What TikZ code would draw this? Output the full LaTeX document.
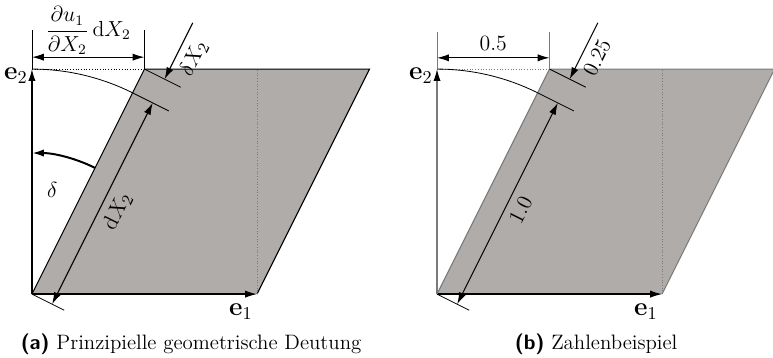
\documentclass[tikz,border=0pt]{standalone}
\usepackage{amsmath}
\usepackage{tikz}
\usetikzlibrary{arrows.meta,calc}
\definecolor{PFill}{HTML}{B0ACAA}
\definecolor{PLine}{HTML}{7A7A7A}

\begin{document}
\begin{tikzpicture}[
  x=124pt,y=124pt,
  every node/.style={font=\fontsize{11}{13}\selectfont},
  edge/.style={line width=0.6pt},
  ax/.style={line width=0.7pt,-{Latex[length=2.3mm,width=1.4mm]}},
  arr/.style={line width=0.6pt,-{Latex[length=2.3mm,width=1.4mm]}},
  dim/.style={line width=0.6pt,{Latex[length=2.3mm,width=1.4mm]}-{Latex[length=2.3mm,width=1.4mm]}},
  aux/.style={line width=0.45pt},
  dots/.style={line width=0.5pt,densely dotted},
  evec/.style={font=\fontsize{14.4}{16}\selectfont,inner sep=1pt},
  rlab/.style={rotate=63.435,anchor=north,inner sep=4pt,font=\fontsize{12.5}{15}\selectfont},
  captxt/.style={anchor=base,font=\fontsize{11.5}{14}\selectfont}
]
\useasboundingbox (-0.142,-0.28) rectangle (3.293,1.307);

% (a) geometric meaning
\begin{scope}
  \coordinate (a-o) at (0,0);
  \coordinate (a-e1) at (1,0);
  \coordinate (a-e2) at (0,1);
  \coordinate (a-r) at (1,1);
  \coordinate (a-tl) at (0.5,1);
  \coordinate (a-tr) at (1.5,1);
  \coordinate (a-m) at (63.435:1);
  \fill[PFill] (a-o) -- (a-e1) -- (a-tr) -- (a-tl) -- cycle;
  \draw[edge] (a-o) -- (a-tl) -- (a-tr) -- (a-e1);
  \draw[dots] (a-e2) -- (a-tl);
  \draw[dots,PLine] (a-e1) -- (a-r);
  \draw[ax] (a-o) -- (a-e1);
  \draw[ax] (a-o) -- (a-e2);
  \node[evec,anchor=north east] (a-l1) at (0.99,-0.035) {$\mathbf{e}_1$};
  \node[evec,anchor=east] (a-l2) at (-0.01,0.97) {$\mathbf{e}_2$};
  \draw[aux] (a-e2) arc (90:63.435:1);
  \draw[aux] (a-m) -- ++(-26.565:0.18) coordinate (a-mt);
  \draw[aux] (a-tl) -- ++(-26.565:0.18) coordinate (a-tt);
  \draw[aux] (a-o) -- ++(-26.565:0.16) coordinate (a-ot);
  \coordinate (a-d0) at ($(a-o)+(-26.565:0.1)$);
  \coordinate (a-d1) at ($(a-m)+(-26.565:0.1)$);
  \coordinate (a-d2) at ($(a-tl)+(-26.565:0.1)$);
  \coordinate (a-d3) at ($(a-d2)+(63.435:0.28)$);
  \draw[dim] (a-d0) -- node[rlab] (a-dl) {$\mathrm{d}X_2$} (a-d1);
  \draw[arr] (a-d3) -- node[rlab] (a-ddl) {$\delta X_2$} (a-d2);
  % horizontal shift
  \coordinate (a-h0) at (0,1.173);
  \coordinate (a-h1) at (0.5,1.173);
  \coordinate (a-k0) at (0,1.053);
  \coordinate (a-k1) at (0.5,1.053);
  \draw[aux] (a-e2) -- (a-h0);
  \draw[aux] (a-tl) -- (a-h1);
  \draw[dim] (a-k0) -- (a-k1);
  \node[anchor=south,inner sep=0pt,font=\fontsize{12}{14}\selectfont] (a-hl)
    at (0.25,1.062) {$\dfrac{\partial u_1}{\partial X_2}\,\mathrm{d}X_2$};
  % shear angle
  \coordinate (a-g0) at (63.435:0.627);
  \draw[arr,line width=1.1pt] (a-g0) arc (63.435:90:0.627) coordinate (a-g1);
  \node[font=\fontsize{12}{14}\selectfont] (a-gl) at (79:0.47) {$\delta$};
  \node[captxt] (a-cap) at (0.707,-0.245)
    {\textsf{\textbf{(a)}} Prinzipielle geometrische Deutung};
\end{scope}

% (b) numbers
\begin{scope}[shift={(1.8,0)}]
  \coordinate (b-o) at (0,0);
  \coordinate (b-e1) at (1,0);
  \coordinate (b-e2) at (0,1);
  \coordinate (b-r) at (1,1);
  \coordinate (b-tl) at (0.5,1);
  \coordinate (b-tr) at (1.5,1);
  \coordinate (b-m) at (63.435:1);
  \fill[PFill] (b-o) -- (b-e1) -- (b-tr) -- (b-tl) -- cycle;
  \draw[edge,PLine] (b-o) -- (b-tl) -- (b-tr) -- (b-e1);
  \draw[dots,PLine] (b-e2) -- (b-tl);
  \draw[dots,PLine] (b-e1) -- (b-r);
  \draw[ax] (b-o) -- (b-e1);
  \draw[ax,PLine,-{Latex[length=2.3mm,width=1.4mm,black]}] (b-o) -- (b-e2);
  \node[evec,anchor=north east] (b-l1) at (0.99,-0.035) {$\mathbf{e}_1$};
  \node[evec,anchor=east] (b-l2) at (-0.01,0.97) {$\mathbf{e}_2$};
  \draw[aux] (b-e2) arc (90:63.435:1);
  \draw[aux] (b-m) -- ++(-26.565:0.18) coordinate (b-mt);
  \draw[aux] (b-tl) -- ++(-26.565:0.18) coordinate (b-tt);
  \draw[aux] (b-o) -- ++(-26.565:0.16) coordinate (b-ot);
  \coordinate (b-d0) at ($(b-o)+(-26.565:0.1)$);
  \coordinate (b-d1) at ($(b-m)+(-26.565:0.1)$);
  \coordinate (b-d2) at ($(b-tl)+(-26.565:0.1)$);
  \coordinate (b-d3) at ($(b-d2)+(63.435:0.28)$);
  \draw[dim] (b-d0) -- node[rlab] (b-dl) {$1.0$} (b-d1);
  \draw[arr] (b-d3) -- node[rlab] (b-ddl) {$0.25$} (b-d2);
  \coordinate (b-h0) at (0,1.165);
  \coordinate (b-h1) at (0.5,1.165);
  \coordinate (b-k0) at (0,1.05);
  \coordinate (b-k1) at (0.5,1.05);
  \draw[aux,PLine] (b-e2) -- (b-h0);
  \draw[aux,PLine] (b-tl) -- (b-h1);
  \draw[dim] (b-k0) -- (b-k1);
  \node[anchor=south,inner sep=0pt,font=\fontsize{12}{14}\selectfont] (b-hl)
    at (0.25,1.08) {$0.5$};
  \node[captxt] (b-cap) at (0.707,-0.245)
    {\textsf{\textbf{(b)}} Zahlenbeispiel};
\end{scope}
\end{tikzpicture}
\end{document}
